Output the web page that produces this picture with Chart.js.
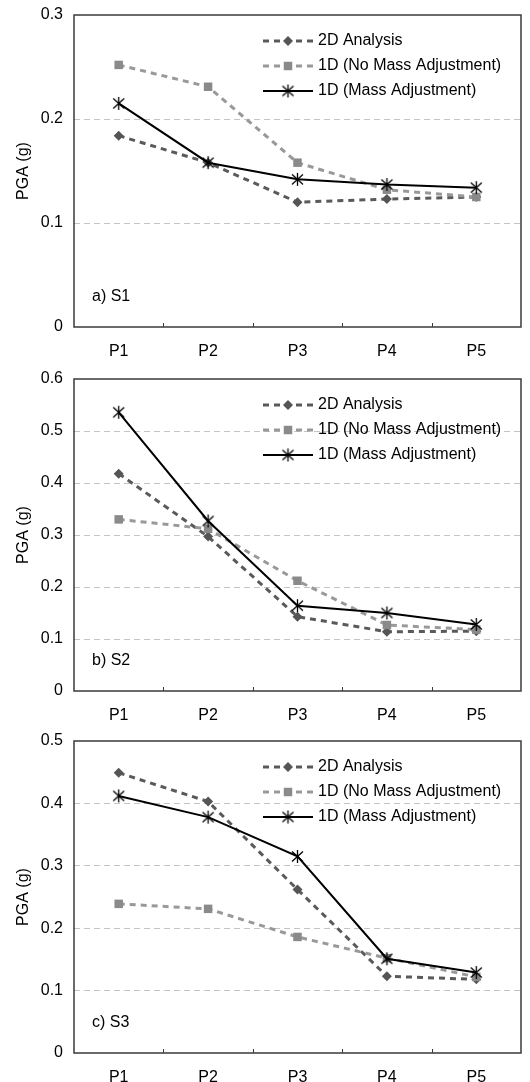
<!DOCTYPE html>
<html>
<head>
<meta charset="utf-8">
<script src="https://cdn.jsdelivr.net/npm/chart.js@4"></script>
<style>
	html, body { margin: 0; padding: 0; background: #fff; overflow: hidden; }
	.panel { position: absolute; left: 0; width: 530px; height: 362px; }
</style>
</head>
<body>
<div class="panel" style="top: 0px;"><canvas id="chart-s1" width="530" height="362"></canvas></div>
<div class="panel" style="top: 364px;"><canvas id="chart-s2" width="530" height="362"></canvas></div>
<div class="panel" style="top: 726px;"><canvas id="chart-s3" width="530" height="362"></canvas></div>
<script>
const labels = [ "P1", "P2", "P3", "P4", "P5" ];
const seriesNames = [ "2D Analysis", "1D (No Mass Adjustment)", "1D (Mass Adjustment)" ];

const s1TwoD = [ 0.184, 0.158, 0.120, 0.123, 0.125 ];
const s1NoMass = [ 0.252, 0.231, 0.158, 0.132, 0.125 ];
const s1Mass = [ 0.215, 0.158, 0.142, 0.137, 0.134 ];

const s2TwoD = [ 0.418, 0.297, 0.143, 0.114, 0.115 ];
const s2NoMass = [ 0.330, 0.312, 0.212, 0.127, 0.118 ];
const s2Mass = [ 0.536, 0.327, 0.164, 0.150, 0.128 ];

const s3TwoD = [ 0.449, 0.403, 0.262, 0.123, 0.118 ];
const s3NoMass = [ 0.239, 0.231, 0.186, 0.152, 0.122 ];
const s3Mass = [ 0.412, 0.378, 0.315, 0.151, 0.129 ];

const yMaxS1 = 0.3, yMaxS2 = 0.6, yMaxS3 = 0.5;

const FONT = "'Liberation Sans', Arial, sans-serif";

// asterisk marker: X with a vertical stroke
function MakeAsterisk()
{
	const c = document.createElement("canvas");
	c.width = 15;
	c.height = 15;
	const g = c.getContext("2d");
	g.strokeStyle = "#000";
	g.lineWidth = 1.3;
	g.beginPath();
	g.moveTo(7.5, 1); g.lineTo(7.5, 14);
	g.moveTo(2, 2.5); g.lineTo(13, 12.5);
	g.moveTo(13, 2.5); g.lineTo(2, 12.5);
	g.stroke();
	return c;
}
const asterisk = MakeAsterisk();

const frameAndLegend = {
	id: "frameAndLegend",
	afterDraw(chart, args, options)
	{
		const { ctx, chartArea: { top, right, bottom, left } } = chart;
		ctx.save();

		ctx.strokeStyle = "#3a3a3a";
		ctx.lineWidth = 1.5;
		ctx.setLineDash([]);
		ctx.strokeRect(left, top, right - left, bottom - top);

		// small inward ticks between categories
		const xs = chart.scales.x;
		ctx.lineWidth = 1;
		ctx.beginPath();
		for (let i = 1; i < labels.length; i++)
		{
			const px = Math.round((xs.getPixelForTick(i - 1) + xs.getPixelForTick(i)) / 2) + 0.5;
			ctx.moveTo(px, bottom);
			ctx.lineTo(px, bottom - 4);
		}
		ctx.stroke();

		ctx.font = "16px " + FONT;
		ctx.fillStyle = "#000";
		ctx.textBaseline = "middle";
		ctx.textAlign = "left";

		let i = 0;
		for (const ds of chart.data.datasets)
		{
			const y = top + 26 + i * 25;
			const x0 = left + 189, x1 = left + 239;
			ctx.strokeStyle = ds.borderColor;
			ctx.lineWidth = ds.borderWidth;
			ctx.setLineDash(ds.borderDash || []);
			ctx.beginPath();
			ctx.moveTo(x0, y);
			ctx.lineTo(x1, y);
			ctx.stroke();
			ctx.setLineDash([]);
			ctx.fillStyle = ds.pointBackgroundColor;
			ctx.strokeStyle = ds.pointBorderColor;
			Chart.helpers.drawPoint(ctx, { pointStyle: ds.pointStyle, radius: ds.pointRadius, rotation: 0, borderWidth: 0 },
					(x0 + x1) / 2, y);
			ctx.fillStyle = "#000";
			ctx.fillText(ds.label, left + 244, y);
			i++;
		}

		ctx.fillText(options.panel, left + 18, bottom - 30);
		ctx.restore();
	}
};

function DrawChart(id, twoD, noMass, mass, yMax, panel)
{
	return new Chart(document.getElementById(id), {
		type: "line",
		data: {
			labels: labels,
			datasets: [{
				label: seriesNames[0],
				data: twoD,
				borderColor: "#5a5a5a",
				borderWidth: 3,
				borderDash: [6, 5],
				pointStyle: "rectRot",
				pointRadius: 5,
				pointBackgroundColor: "#555555",
				pointBorderColor: "#555555",
				pointBorderWidth: 0,
				order: 3,
			},
			{
				label: seriesNames[1],
				data: noMass,
				borderColor: "#999999",
				borderWidth: 3,
				borderDash: [6, 5],
				pointStyle: "rect",
				pointRadius: 6,
				pointBackgroundColor: "#8a8a8a",
				pointBorderColor: "#8a8a8a",
				pointBorderWidth: 0,
				order: 2,
			},
			{
				label: seriesNames[2],
				data: mass,
				borderColor: "#000000",
				borderWidth: 2,
				pointStyle: asterisk,
				pointRadius: 7,
				pointBackgroundColor: "#000000",
				pointBorderColor: "#000000",
				order: 1,
			}]
		},
		options: {
			responsive: false,
			animation: false,
			devicePixelRatio: 1,
			layout: {
				padding: { top: 15, right: 9, left: 0, bottom: 0 }
			},
			elements: {
				line: { tension: 0 }
			},
			plugins: {
				legend: { display: false },
				tooltip: { enabled: false },
				frameAndLegend: { panel: panel },
			},
			scales: {
				x: {
					offset: true,
					grid: { display: false },
					border: { display: false },
					ticks: {
						color: "#000",
						padding: 7,
						font: { family: FONT, size: 16 },
					},
					afterFit: function(scale) { scale.height = 35; },
				},
				y: {
					min: 0,
					max: yMax,
					grid: {
						drawTicks: false,
						lineWidth: 1,
						color: function(c)
						{
							if (c.tick.value <= 0 || c.tick.value >= yMax - 1e-9)
								return "rgba(0,0,0,0)";
							return "#c4c4c4";
						},
					},
					border: { display: false, dash: [6, 4] },
					ticks: {
						stepSize: 0.1,
						color: "#000",
						padding: 11,
						font: { family: FONT, size: 16 },
					},
					title: {
						display: true,
						text: "PGA (g)",
						color: "#000",
						font: { family: FONT, size: 16 },
						padding: { top: 14, bottom: 0 },
					},
					afterFit: function(scale)
					{
						scale.width = 74;
						scale.paddingTop = 0;
						scale.paddingBottom = 0;
					},
				}
			}
		},
		plugins: [ frameAndLegend ],
	});
}

DrawChart("chart-s1", s1TwoD, s1NoMass, s1Mass, yMaxS1, "a) S1");
DrawChart("chart-s2", s2TwoD, s2NoMass, s2Mass, yMaxS2, "b) S2");
DrawChart("chart-s3", s3TwoD, s3NoMass, s3Mass, yMaxS3, "c) S3");
</script>
</body>
</html>
